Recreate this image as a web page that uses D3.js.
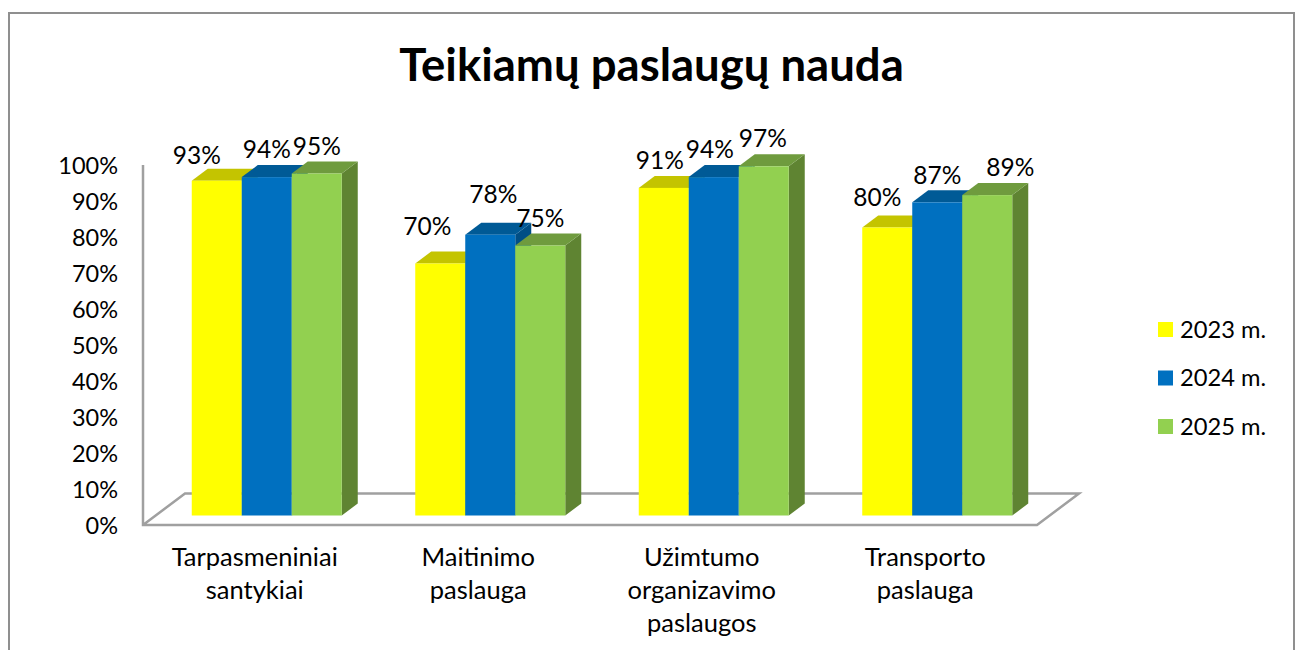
<!DOCTYPE html>
<html><head><meta charset="utf-8">
<script src="https://cdn.jsdelivr.net/npm/d3@7/dist/d3.min.js"></script>
<style>
html,body{margin:0;padding:0;background:#fff;overflow:hidden}
text{font-family:Lato,"Open Sans",sans-serif;fill:#000}
</style></head><body><script>
const titleText = "Teikiamų paslaugų nauda";
const categories = ["Tarpasmeniniai santykiai","Maitinimo paslauga","Užimtumo organizavimo paslaugos","Transporto paslauga"];
const categoryLines = [["Tarpasmeniniai","santykiai"],["Maitinimo","paslauga"],["Užimtumo","organizavimo","paslaugos"],["Transporto","paslauga"]];
const seriesNames = ["2023 m.","2024 m.","2025 m."];
const values2023 = [93,70,91,80];
const values2024 = [94,78,94,87];
const values2025 = [95,75,97,89];
const seriesValues = [values2023,values2024,values2025];
const tickValues = [0,10,20,30,40,50,60,70,80,90,100];
const frontColors = ["#ffff00","#0070c0","#92d050"];
const topColors = ["#c4c400","#005a96","#6f9b3e"];
const sideColors = ["#a8a800","#004e85","#5f8432"];
// hand-placed label nudges of the original, [dx, dy] by series then category
const labelNudge = [
 [[-20,-25],[-13,-37],[-4,-27],[-10,-30]],
 [[0,-28],[3,-40],[-4,-28],[0,-27]],
 [[0,-27],[0,-27],[-1,-28],[23,-28]]
];

const W=1300,H=650, depthX=16, depthY=12;
const svg=d3.select("body").append("svg").attr("width",W).attr("height",H).style("display","block");
svg.append("rect").attr("width",W).attr("height",H).attr("fill","#fff");
svg.append("path").attr("d","M9,652V13H1294V652").attr("fill","none").attr("stroke","#8f8f8f").attr("stroke-width",2);

const x0=d3.scaleBand().domain(categories).range([143,1037]);
const x1=d3.scaleBand().domain(seriesNames).range([-75,75]);
const barShift=12;
const yAxisScale=d3.scaleLinear().domain([0,100]).range([526,166]);
const yBar=d3.scaleLinear().domain([0,100]).range([515.5,155.5]);

// floor and axis wall
const gridColor="#a0a0a0";
svg.append("path").attr("d","M143,165V525H1037L1079,493.5H185L143,525").attr("fill","none").attr("stroke",gridColor).attr("stroke-width",2.5);

// bars
seriesNames.forEach((s,si)=>{
  const g=svg.append("g");
  const groups=g.selectAll("g").data(categories).join("g");
  groups.each(function(c,ci){
    const v=seriesValues[si][ci];
    const xl=x0(c)+x0.bandwidth()/2+barShift+x1(s), w=x1.bandwidth(), xr=xl+w;
    const yt=yBar(v), yb=yBar(0);
    const sel=d3.select(this);
    sel.append("path").attr("d",`M${xr},${yt}L${xr+depthX},${yt-depthY}V${yb-depthY}L${xr},${yb}Z`).attr("fill",sideColors[si]);
    sel.append("path").attr("d",`M${xl},${yt}L${xl+depthX},${yt-depthY}H${xr+depthX}L${xr},${yt}Z`).attr("fill",topColors[si]);
    sel.append("rect").attr("x",xl).attr("y",yt).attr("width",w).attr("height",yb-yt).attr("fill",frontColors[si]);
  });
});

// value labels
seriesNames.forEach((s,si)=>{
  categories.forEach((c,ci)=>{
    const v=seriesValues[si][ci], n=labelNudge[si][ci];
    svg.append("text").attr("x",x0(c)+x0.bandwidth()/2+barShift+x1(s)+x1.bandwidth()/2+n[0])
      .attr("y",yBar(v)+n[1]).attr("dy","0.35em").attr("text-anchor","middle").attr("font-size",24.5).text(v+"%");
  });
});

// y axis
const ax=svg.append("g").attr("transform","translate(118,0)")
  .call(d3.axisLeft(yAxisScale).tickValues(tickValues).tickFormat(d=>d+"%").tickSize(0).tickPadding(0));
ax.select(".domain").remove();
ax.selectAll("text").attr("font-size",23.5).attr("font-family","Lato").attr("fill","#000");

// category labels
categories.forEach((c,i)=>{
  const t=svg.append("text").attr("text-anchor","middle").attr("font-size",25.5);
  categoryLines[i].forEach((l,j)=>{
    t.append("tspan").attr("x",x0(c)+x0.bandwidth()/2).attr("y",566+j*33).text(l);
  });
});

// title
svg.append("text").attr("x",651.5).attr("y",81).attr("text-anchor","middle").attr("font-size",45.5).attr("font-weight",700).text(titleText);

// legend
const ly=d3.scalePoint().domain(seriesNames).range([329.5,426.5]);
seriesNames.forEach((s,i)=>{
  svg.append("rect").attr("x",1158).attr("y",ly(s)-7.5).attr("width",15).attr("height",15).attr("fill",frontColors[i]);
  svg.append("text").attr("x",1180).attr("y",ly(s)).attr("dy","0.35em").attr("font-size",23.7).text(s);
});
</script></body></html>
